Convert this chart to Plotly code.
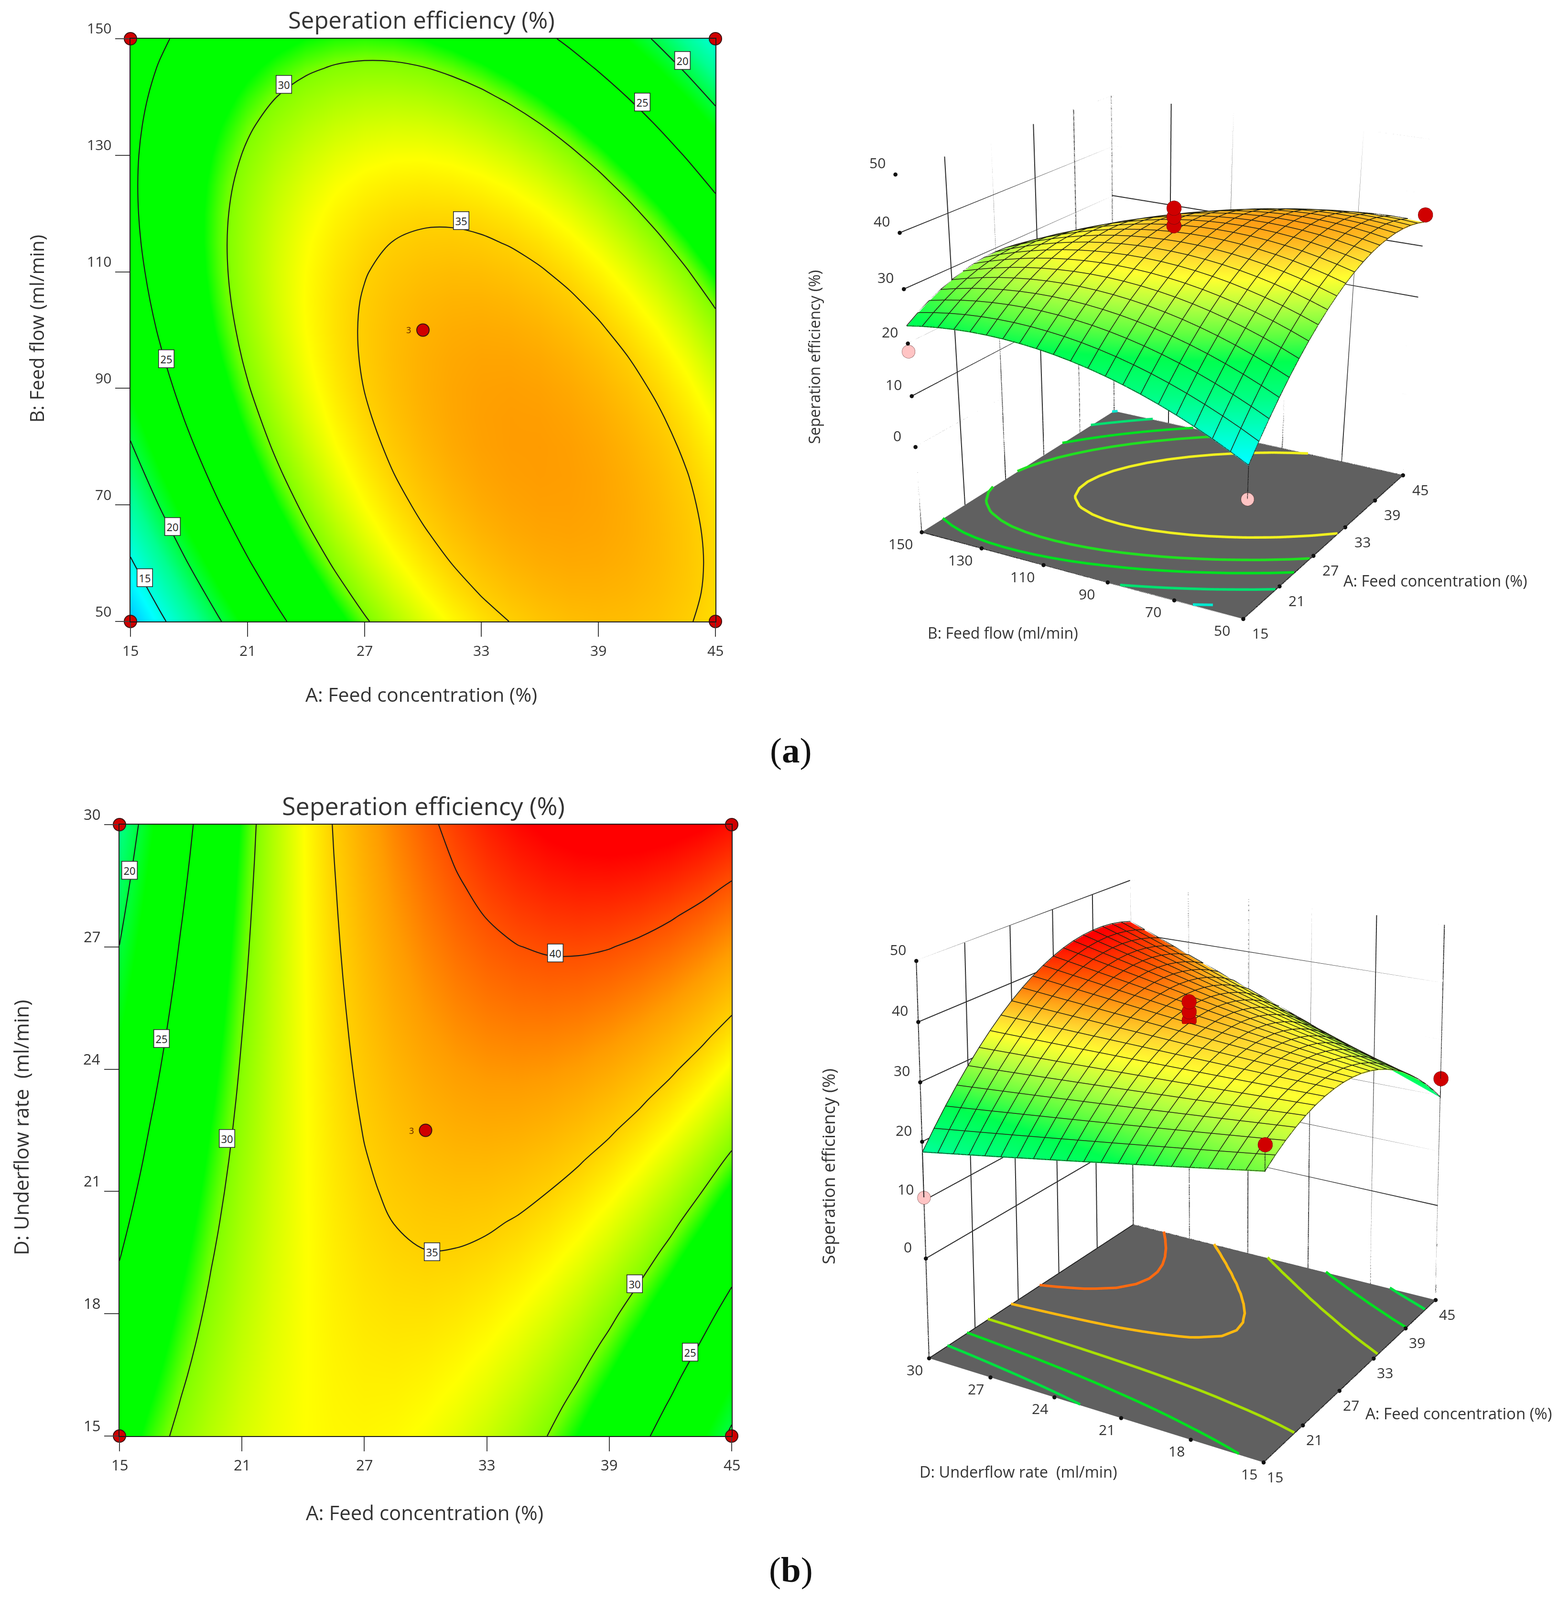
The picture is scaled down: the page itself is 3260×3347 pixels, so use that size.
import numpy as np
import plotly.graph_objects as go

W, H = 3260, 3347
PAGE_OFF = 8  # the browser's body margin
A_VALS = [15, 16.5, 18, 19.5, 21, 22.5, 24, 25.5, 27, 28.5, 30, 31.5, 33, 34.5, 36, 37.5, 39, 40.5, 42, 43.5, 45]
B_VALS = [50, 55, 60, 65, 70, 75, 80, 85, 90, 95, 100, 105, 110, 115, 120, 125, 130, 135, 140, 145, 150]
D_VALS = [15, 15.75, 16.5, 17.25, 18, 18.75, 19.5, 20.25, 21, 21.75, 22.5, 23.25, 24, 24.75, 25.5, 26.25, 27, 27.75,
          28.5, 29.25, 30]

EFF_A = [
 [11.45,14.40,17.16,19.73,22.11,24.30,26.31,28.12,29.75,31.18,32.43,33.49,34.36,35.04,35.53,35.83,35.95,35.87,35.61,35.15,34.51],
 [13.13,16.00,18.68,21.18,23.48,25.60,27.52,29.26,30.81,32.17,33.34,34.32,35.11,35.72,36.13,36.36,36.39,36.24,35.90,35.37,34.65],
 [14.69,17.48,20.09,22.51,24.74,26.78,28.63,30.29,31.76,33.04,34.13,35.03,35.75,36.28,36.62,36.77,36.73,36.50,36.08,35.47,34.68],
 [16.14,18.85,21.39,23.73,25.88,27.84,29.61,31.20,32.59,33.80,34.81,35.64,36.28,36.73,36.99,37.06,36.95,36.64,36.14,35.46,34.59],
 [17.47,20.11,22.57,24.83,26.90,28.78,30.48,31.99,33.31,34.44,35.38,36.13,36.69,37.06,37.25,37.24,37.05,36.66,36.09,35.33,34.38],
 [18.69,21.25,23.63,25.82,27.81,29.62,31.24,32.67,33.91,34.96,35.83,36.50,36.99,37.28,37.39,37.31,37.04,36.57,35.93,35.09,34.06],
 [19.80,22.28,24.58,26.69,28.61,30.34,31.88,33.23,34.40,35.37,36.16,36.76,37.17,37.39,37.42,37.26,36.91,36.37,35.65,34.73,33.63],
 [20.79,23.19,25.42,27.45,29.29,30.94,32.41,33.68,34.77,35.67,36.38,36.90,37.23,37.38,37.33,37.09,36.67,36.05,35.25,34.26,33.08],
 [21.66,23.99,26.14,28.09,29.86,31.43,32.82,34.02,35.03,35.85,36.49,36.93,37.18,37.25,37.13,36.81,36.31,35.62,34.74,33.67,32.41],
 [22.42,24.67,26.74,28.62,30.31,31.80,33.12,34.24,35.17,35.92,36.48,36.84,37.02,37.01,36.81,36.41,35.84,35.07,34.11,32.97,31.63],
 [23.06,25.24,27.23,29.03,30.64,32.06,33.30,34.34,35.20,35.87,36.35,36.64,36.74,36.65,36.37,35.90,35.25,34.40,33.37,32.15,30.74],
 [23.59,25.69,27.60,29.33,30.86,32.21,33.37,34.33,35.12,35.71,36.11,36.32,36.35,36.18,35.82,35.28,34.55,33.62,32.52,31.22,29.73],
 [24.00,26.02,27.86,29.51,30.97,32.24,33.32,34.21,34.92,35.43,35.75,35.89,35.84,35.59,35.16,34.54,33.73,32.73,31.55,30.17,28.61],
 [24.30,26.25,28.01,29.58,30.96,32.15,33.16,33.97,34.60,35.04,35.28,35.34,35.21,34.89,34.38,33.69,32.80,31.72,30.46,29.01,27.37],
 [24.48,26.36,28.04,29.53,30.84,31.95,32.88,33.62,34.17,34.53,34.70,34.68,34.47,34.08,33.49,32.72,31.75,30.60,29.26,27.73,26.01],
 [24.55,26.35,27.95,29.37,30.60,31.64,32.49,33.15,33.62,33.90,34.00,33.90,33.62,33.15,32.48,31.63,30.59,29.36,27.95,26.34,24.54],
 [24.51,26.22,27.75,29.09,30.24,31.21,31.98,32.56,32.96,33.16,33.18,33.01,32.65,32.10,31.36,30.43,29.32,28.01,26.51,24.83,22.96],
 [24.34,25.99,27.44,28.70,29.78,30.66,31.36,31.86,32.18,32.31,32.25,32.00,31.56,30.94,30.12,29.12,27.92,26.54,24.97,23.21,21.26],
 [24.07,25.63,27.01,28.19,29.19,30.00,30.62,31.05,31.29,31.34,31.21,30.88,30.37,29.66,28.77,27.69,26.42,24.96,23.31,21.47,19.44],
 [23.68,25.16,26.46,27.57,28.49,29.22,29.77,30.12,30.28,30.26,30.05,29.64,29.05,28.27,27.30,26.14,24.79,23.26,21.53,19.62,17.51],
 [23.17,24.58,25.80,26.83,27.68,28.33,28.80,29.07,29.16,29.06,28.77,28.29,27.62,26.76,25.72,24.48,23.06,21.44,19.64,17.65,15.47],
]
EFF_B = [
 [27.87,29.24,30.43,31.42,32.23,32.85,33.28,33.52,33.58,33.45,33.13,32.62,31.93,31.04,29.97,28.71,27.26,25.62,23.80,21.79,19.59],
 [27.37,28.81,30.08,31.16,32.05,32.75,33.26,33.58,33.72,33.67,33.43,33.00,32.39,31.58,30.59,29.41,28.04,26.49,24.75,22.82,20.70],
 [26.86,28.39,29.74,30.90,31.87,32.65,33.24,33.64,33.86,33.89,33.73,33.38,32.85,32.13,31.22,30.12,28.83,27.36,25.70,23.85,21.81],
 [26.36,27.97,29.40,30.64,31.69,32.55,33.22,33.70,34.00,34.11,34.04,33.77,33.32,32.68,31.85,30.83,29.62,28.23,26.65,24.88,22.92],
 [25.86,27.55,29.06,30.38,31.51,32.45,33.21,33.77,34.15,34.34,34.35,34.16,33.79,33.23,32.48,31.54,30.41,29.10,27.60,25.91,24.03],
 [25.36,27.13,28.72,30.12,31.33,32.35,33.19,33.84,34.30,34.57,34.66,34.55,34.26,33.78,33.11,32.25,31.20,29.97,28.55,26.94,25.14],
 [24.87,26.72,28.39,29.87,31.16,32.26,33.18,33.91,34.45,34.80,34.97,34.94,34.73,34.33,33.74,32.96,32.00,30.85,29.51,27.98,26.26],
 [24.38,26.31,28.06,29.62,31.00,32.17,33.17,33.98,34.60,35.03,35.28,35.33,35.20,34.88,34.37,33.68,32.80,31.72,30.46,29.01,27.38],
 [23.89,25.90,27.73,29.37,30.83,32.09,33.17,34.06,34.76,35.27,35.59,35.73,35.68,35.44,35.01,34.40,33.60,32.60,31.42,30.05,28.50],
 [23.40,25.49,27.40,29.12,30.66,32.00,33.16,34.13,34.91,35.50,35.91,36.13,36.16,36.00,35.65,35.12,34.40,33.48,32.38,31.09,29.62],
 [22.91,25.09,27.08,28.88,30.49,31.92,33.16,34.21,35.07,35.74,36.23,36.53,36.64,36.56,36.29,35.84,35.20,34.37,33.35,32.14,30.75],
 [22.42,24.68,26.75,28.63,30.33,31.84,33.16,34.29,35.23,35.98,36.55,36.93,37.12,37.12,36.93,36.56,36.00,35.25,34.31,33.19,31.88],
 [21.94,24.28,26.43,28.39,30.17,31.76,33.16,34.37,35.39,36.22,36.87,37.33,37.60,37.68,37.58,37.29,36.81,36.14,35.28,34.24,33.01],
 [21.46,23.88,26.11,28.15,30.01,31.68,33.16,34.45,35.55,36.47,37.20,37.74,38.09,38.25,38.23,38.02,37.62,37.03,36.25,35.29,34.14],
 [20.98,23.48,25.80,27.92,29.86,31.60,33.16,34.53,35.72,36.72,37.53,38.15,38.58,38.82,38.88,38.75,38.43,37.92,37.23,36.34,35.27],
 [20.50,23.08,25.48,27.68,29.70,31.53,33.17,34.62,35.89,36.97,37.86,38.56,39.07,39.39,39.53,39.48,39.24,38.81,38.20,37.39,36.40],
 [20.03,22.69,25.17,27.45,29.55,31.46,33.18,34.71,36.06,37.22,38.19,38.97,39.56,39.96,40.18,40.21,40.06,39.71,39.18,38.45,37.54],
 [19.56,22.30,24.85,27.22,29.40,31.39,33.19,34.80,36.23,37.47,38.52,39.38,40.05,40.54,40.84,40.95,40.87,40.60,40.15,39.51,38.68],
 [19.09,21.91,24.54,26.99,29.25,31.32,33.20,34.89,36.40,37.72,38.85,39.79,40.55,41.12,41.50,41.69,41.69,41.50,41.13,40.57,39.82],
 [18.62,21.52,24.23,26.76,29.10,31.25,33.21,34.99,36.58,37.98,39.19,40.21,41.05,41.70,42.16,42.43,42.51,42.40,42.11,41.63,40.96],
 [18.15,21.13,23.93,26.54,28.96,31.19,33.23,35.09,36.76,38.24,39.53,40.63,41.55,42.28,42.82,43.17,43.33,43.31,43.10,42.70,42.11],
]

A_TICKS = [15, 21, 27, 33, 39, 45]
B_TICKS = [50, 70, 90, 110, 130, 150]
D_TICKS = [15, 18, 21, 24, 27, 30]
Z_TICKS = [0, 10, 20, 30, 40, 50]
Z_FLOOR = -17.5

LEVELS_A = [15, 20, 25, 30, 35]
LEVELS_B = [20, 25, 30, 35, 40]
# levels of the lines printed on the floor of the 3-D boxes
FLOOR_LEVELS_A = [16, 21, 25.7, 29.0, 33.5]
FLOOR_COLORS_A = ['#00e8d0', '#00e070', '#00e020', '#20e020', '#f0f020']
FLOOR_LEVELS_B = [22.7, 27.2, 31.5, 35.6, 39.6]
FLOOR_COLORS_B = ['#00e040', '#00e020', '#a8e000', '#ffb810', '#ff6a10']

LABELS_A = [(30, 22.87, 142.2), (35, 31.97, 118.8), (25, 41.24, 139.1), (20, 43.3, 146.3),
            (25, 16.83, 95.1), (20, 17.16, 66.3), (15, 15.73, 57.5)]
LABELS_B = [(20, 15.48, 28.88), (25, 17.06, 24.75), (30, 20.28, 22.3), (40, 36.35, 26.85),
            (35, 30.32, 19.52), (30, 40.24, 18.74), (25, 42.97, 17.06)]

# design points above (red) and below (pink) the fitted surface
PTS_A_RED = ([30, 30, 30, 45], [100, 100, 100, 50], [40.8, 39.2, 37.6, 36.0])
PTS_A_PINK = ([15, 15, 45], [150, 50, 150], [18.5, 5.4, 14.0])
PTS_B_RED = ([30, 30, 30, 45, 15], [22.5, 22.5, 22.5, 15, 15], [40.0, 38.3, 36.8, 23.0, 32.0])
PTS_B_PINK = ([15, 45], [30, 30], [10.5, 38.0])

TITLE = 'Seperation efficiency (%)'
XLAB = 'A: Feed concentration (%)'
YLAB_A = 'B: Feed flow (ml/min)'
YLAB_B = 'D: Underflow rate  (ml/min)'

FONT = 'Open Sans'
INK = '#333333'
CMIN, CMAX = 10, 44
COLORS = [(10, '#0040ff'), (11.5, '#00c0ff'), (14, '#00ffff'), (18, '#00ff90'), (21.5, '#00ff00'),
          (28.8, '#00ff00'), (30, '#80ff00'), (33.3, '#ffff00'), (35, '#ffd000'), (37.4, '#ff9c00'),
          (40, '#ff5000'), (42.5, '#ff0000'), (44, '#ff0000')]
SURF_COLORS = [(10, '#00ffff'), (12, '#00ffff'), (15, '#00ffd0'), (20, '#00ff80'), (24, '#00ff50'), (27, '#60ff40'),
               (30, '#b0ff40'), (33, '#ffff30'), (35, '#ffd830'), (37, '#ffa818'), (40, '#ff5000'), (43, '#ff0000'),
               (44, '#ff0000')]
CSCALE = [[(v - CMIN) / (CMAX - CMIN), c] for v, c in COLORS]
SURF_SCALE = [[(v - CMIN) / (CMAX - CMIN), c] for v, c in SURF_COLORS]

# where the box corners sit on the page: (x side, y side, z side) -> pixels in the shrunk view
CORNERS_A = {(-1, 1, -1): (900, 520), (-1, -1, -1): (1218, 610), (1, -1, -1): (1382, 465), (1, 1, -1): (1090, 402),
             (-1, 1, 1): (882, 170), (1, 1, 1): (1090, 95), (1, -1, 1): (1397, 135)}
CORNERS_B = {(-1, 1, -1): (912, 1331), (-1, -1, -1): (1237, 1430), (1, -1, -1): (1405, 1275), (1, 1, -1): (1110, 1202),
             (-1, 1, 1): (897, 945), (1, 1, 1): (1107, 860), (1, -1, 1): (1420, 905)}
SCALE = W / 1527
DOMAIN_H = [0.5, 0.6, 0.7, 0.8, 0.9, 1.0]
DOMAIN_W = [0.5, 0.6, 0.75, 0.9, 1.0]


def fit_one(corners, elev, ratio, pp, focal):
    keys = np.array(list(corners.keys()), float)
    target = np.array(list(corners.values()), float) * SCALE
    az, e = np.arctan(ratio), np.radians(elev)
    f0 = np.array([np.cos(az) * np.cos(e), np.sin(az) * np.cos(e), -np.sin(e)])
    r0 = np.array([f0[1], -f0[0], 0.0]) / np.hypot(f0[0], f0[1])
    u0 = np.cross(r0, f0)
    R0 = np.stack([r0, u0, f0])

    def rot(w):
        th = np.linalg.norm(w)
        if th < 1e-12:
            return np.eye(3)
        k = w / th
        K = np.array([[0, -k[2], k[1]], [k[2], 0, -k[0]], [-k[1], k[0], 0]])
        return np.eye(3) + np.sin(th) * K + (1 - np.cos(th)) * K @ K

    def residual(p):
        R = R0 @ rot(p[3:6])
        pts = keys * np.array([0.5, 0.5 * p[6], 0.5 * p[7]]) - p[:3]
        cam = pts @ R.T
        x = pp[0] + cam[:, 0] * focal / cam[:, 2]
        y = pp[1] - cam[:, 1] * focal / cam[:, 2]
        return np.concatenate([x - target[:, 0], y - target[:, 1]])

    p = np.concatenate([-f0 * focal / 762.0, np.zeros(3), [1.0, 1.05]])
    lam = 1e-3
    cost = (residual(p) ** 2).sum()
    for _ in range(120):
        r = residual(p)
        J = np.zeros((len(r), len(p)))
        for i in range(len(p)):
            dp = np.zeros(len(p))
            dp[i] = 1e-5
            J[:, i] = (residual(p + dp) - r) / 1e-5
        step = np.linalg.solve(J.T @ J + lam * np.eye(len(p)), -J.T @ r)
        new_cost = (residual(p + step) ** 2).sum()
        if new_cost < cost:
            p, cost, lam = p + step, new_cost, max(lam * 0.5, 1e-9)
        else:
            lam *= 4
    R = R0 @ rot(p[3:6])
    eye, up, fwd = p[:3], R[1], R[2]
    return cost, eye, eye + fwd * np.linalg.norm(eye), up, p[6], p[7]


def fit_camera(corners, elev, ratio, anchor_top):
    """Choose the scene's viewport and camera that put the box corners on their page positions."""
    best = None
    for fh in DOMAIN_H:
        for fw in DOMAIN_W:
            h, w = fh * H, fw * W
            focal = (h / 2) / np.tan(np.pi / 8)
            ppx = PAGE_OFF + W - w / 2
            ppy = PAGE_OFF + (h / 2 if anchor_top else H - h / 2)
            res = fit_one(corners, elev, ratio, (ppx, ppy), focal)
            if best is None or res[0] < best[0][0]:
                best = (res, fh, fw)
    return best


def level_lines(xs, ys, grid, level):
    """Marching squares over the read grid, chained into polylines."""
    segs = []
    for j in range(len(ys) - 1):
        for i in range(len(xs) - 1):
            c = [(xs[i], ys[j], grid[j][i]), (xs[i + 1], ys[j], grid[j][i + 1]),
                 (xs[i + 1], ys[j + 1], grid[j + 1][i + 1]), (xs[i], ys[j + 1], grid[j + 1][i])]
            pts = []
            for k in range(4):
                p, q = c[k], c[(k + 1) % 4]
                if (p[2] - level) * (q[2] - level) < 0:
                    t = (level - p[2]) / (q[2] - p[2])
                    pts.append((round(p[0] + t * (q[0] - p[0]), 6), round(p[1] + t * (q[1] - p[1]), 6)))
            if len(pts) == 2:
                segs.append(pts)
            elif len(pts) == 4:
                segs += [pts[:2], pts[2:]]
    ends = {}
    for n, s in enumerate(segs):
        for e in s:
            ends.setdefault(e, []).append(n)
    used = set()
    X, Y = [], []
    order = sorted(range(len(segs)), key=lambda n: min(len(ends[segs[n][0]]), len(ends[segs[n][1]])))
    for n in order:
        if n in used:
            continue
        used.add(n)
        s = segs[n]
        start, cur = (s[0], s[1]) if len(ends[s[0]]) == 1 else (s[1], s[0])
        X += [start[0], cur[0]]
        Y += [start[1], cur[1]]
        while True:
            nxt = [m for m in ends[cur] if m not in used]
            if not nxt:
                break
            used.add(nxt[0])
            a, b = segs[nxt[0]]
            cur = b if a == cur else a
            X.append(cur[0])
            Y.append(cur[1])
        X.append(None)
        Y.append(None)
    return X, Y


def px_x(p):
    return (p * SCALE - PAGE_OFF) / W


def px_y(p):
    return 1 - (p * SCALE - PAGE_OFF) / H


fig = go.Figure()
annots = []


def text(t, x, y, size, angle=0, color=INK, family=FONT):
    annots.append(dict(text=t, x=px_x(x), y=px_y(y), xref='paper', yref='paper', showarrow=False,
                       xanchor='center', yanchor='middle', textangle=angle,
                       font=dict(size=size, family=family, color=color)))


def panel2d(n, xs, ys, grid, xdom, ydom, xticks, yticks, labels, yrange, levels, tick_size):
    xa, ya = ('x', 'y') if n == 1 else ('x2', 'y2')
    fig.add_trace(go.Heatmap(x=xs, y=ys, z=grid, colorscale=CSCALE, zmin=CMIN, zmax=CMAX, zsmooth='best',
                             showscale=False, hoverinfo='skip', xaxis=xa, yaxis=ya))
    fig.add_trace(go.Contour(x=xs, y=ys, z=grid, autocontour=False,
                             contours=dict(coloring='none', start=levels[0], end=levels[-1], size=5),
                             line=dict(color='#1a1a1a', width=2.2, smoothing=1.0),
                             showscale=False, hoverinfo='skip', xaxis=xa, yaxis=ya))
    xc, yc = 30, (yrange[0] + yrange[1]) / 2
    cx = [15, 15, 45, 45, xc]
    cy = [yrange[0], yrange[1], yrange[0], yrange[1], yc]
    fig.add_trace(go.Scatter(x=cx, y=cy, mode='markers', cliponaxis=False, hoverinfo='skip',
                             marker=dict(size=26, color='#d00000', line=dict(color='#401010', width=2)),
                             xaxis=xa, yaxis=ya))
    axis = dict(showgrid=False, zeroline=False, showline=True, mirror=True, linecolor='#1a1a1a', linewidth=2,
                ticks='outside', ticklen=30, tickcolor='#444444', tickwidth=2, showticklabels=False)
    key = '' if n == 1 else '2'
    fig.layout['xaxis' + key] = dict(axis, domain=xdom, range=[15, 45], tickvals=xticks, anchor='y' + key)
    fig.layout['yaxis' + key] = dict(axis, domain=ydom, range=yrange, tickvals=yticks, anchor='x' + key)
    for v in xticks:
        annots.append(dict(text=str(v), x=v, y=yrange[0], xref=xa, yref=ya, showarrow=False, yshift=-60,
                           font=dict(size=tick_size, family=FONT, color=INK)))
    for v in yticks:
        annots.append(dict(text=str(v), x=15, y=v, xref=xa, yref=ya, showarrow=False, xanchor='right',
                           xshift=-38, yshift=22, font=dict(size=tick_size, family=FONT, color=INK)))
    for lab, lx, ly in labels:
        annots.append(dict(text=str(lab), x=lx, y=ly, xref=xa, yref=ya, showarrow=False, bgcolor='white',
                           bordercolor='#222222', borderwidth=1.5, borderpad=3,
                           font=dict(size=22, family=FONT, color='#222222')))
    annots.append(dict(text='3', x=xc, y=yc, xref=xa, yref=ya, showarrow=False, xshift=-30,
                       font=dict(size=18, family=FONT, color='#5a1a00')))


panel2d(1, A_VALS, B_VALS, EFF_A, [(273 - PAGE_OFF) / W, (1497 - PAGE_OFF) / W],
        [1 - (1300 - PAGE_OFF) / H, 1 - (81 - PAGE_OFF) / H], A_TICKS, B_TICKS, LABELS_A, [50, 150], LEVELS_A, 30)
panel2d(2, A_VALS, D_VALS, EFF_B, [(250 - PAGE_OFF) / W, (1531 - PAGE_OFF) / W],
        [1 - (3004 - PAGE_OFF) / H, 1 - (1725 - PAGE_OFF) / H], A_TICKS, D_TICKS, LABELS_B, [15, 30], LEVELS_B, 31)

text(TITLE, 413, 19, 49)
text(XLAB, 413, 680, 41)
text(YLAB_A, 36, 322, 40, -90)
text(TITLE, 415, 789, 52)
text(XLAB, 416, 1482, 42)
text(YLAB_B, 20, 1105, 42, -90)
text('(<b>a</b>)', 775, 735, 75, family='Liberation Serif', color='#111111')
text('(<b>b</b>)', 775, 1538, 75, family='Liberation Serif', color='#111111')
text(YLAB_A, 983, 620, 32)
text(XLAB, 1407, 569, 32.5)
text(TITLE, 798, 350, 32, -90)
text(YLAB_B, 998, 1442, 32.5)
text(XLAB, 1430, 1385, 33)
text(TITLE, 812, 1143, 36, -90)


def line3d(xs, ys, zs, scene, color='#3a3a3a', width=2):
    fig.add_trace(go.Scatter3d(x=xs, y=ys, z=zs, mode='lines', line=dict(color=color, width=width),
                               hoverinfo='skip', showlegend=False, scene=scene))


def panel3d(scene, ys_vals, grid, yticks, levels, level_colors, red, pink, yrange, corners, elev, ratio,
            droplines, anchor_top, a_shift, y_shift):
    amin, amax = 15, 45
    ymin, ymax = yrange
    z0, z1 = Z_FLOOR, Z_TICKS[-1]
    X, Y, Z = [], [], []
    for a in A_TICKS:
        X += [a, a, None]; Y += [ymax, ymax, None]; Z += [z0, z1, None]
    for b in yticks:
        X += [amax, amax, None]; Y += [b, b, None]; Z += [z0, z1, None]
    for z in Z_TICKS:
        X += [amin, amax, amax, None]; Y += [ymax, ymax, ymin, None]; Z += [z, z, z, None]
    line3d(X, Y, Z, scene, '#2a2a2a', 4)
    line3d([amin, amin, amax, amax, amin, None, amin, amin, None, amax, amax],
           [ymax, ymin, ymin, ymax, ymax, None, ymax, ymax, None, ymin, ymin],
           [z0, z0, z0, z0, z0, None, z0, z1, None, z0, z1], scene, '#1a1a1a', 4)
    for lev, col in zip(levels, level_colors):
        lx, ly = level_lines(A_VALS, ys_vals, grid, lev)
        line3d(lx, ly, [None if v is None else z0 + 0.15 for v in lx], scene, col, 11)
    fig.add_trace(go.Surface(x=A_VALS, y=ys_vals, z=grid, colorscale=SURF_SCALE, cmin=CMIN, cmax=CMAX, showscale=False,
                             hoverinfo='skip', scene=scene,
                             lighting=dict(ambient=1, diffuse=0, specular=0, roughness=1, fresnel=0),
                             contours=dict(x=dict(highlight=False), y=dict(highlight=False), z=dict(highlight=False))))
    # mesh drawn along the rows and columns of the grid, just above the surface
    mx, my, mz = [], [], []
    lift = 0.12
    for j, yv in enumerate(ys_vals):
        mx += list(A_VALS) + [None]
        my += [yv] * len(A_VALS) + [None]
        mz += [v + lift for v in grid[j]] + [None]
    for i, xv in enumerate(A_VALS):
        mx += [xv] * len(ys_vals) + [None]
        my += list(ys_vals) + [None]
        mz += [row[i] + lift for row in grid] + [None]
    line3d(mx, my, mz, scene, '#202010', 3)
    tx = list(A_TICKS) + [amin for _ in yticks] + [amin for _ in Z_TICKS]
    ty = [ymin for _ in A_TICKS] + list(yticks) + [ymax for _ in Z_TICKS]
    tz = [z0 for _ in A_TICKS] + [z0 for _ in yticks] + list(Z_TICKS)
    fig.add_trace(go.Scatter3d(x=tx, y=ty, z=tz, mode='markers', marker=dict(size=5, color='#111111'),
                               hoverinfo='skip', showlegend=False, scene=scene))
    for (dx, dy, dz_lo, dz_hi) in droplines:
        line3d([dx, dx], [dy, dy], [dz_lo, dz_hi], scene, '#111111', 3)
    fig.add_trace(go.Scatter3d(x=pink[0], y=pink[1], z=pink[2], mode='markers', hoverinfo='skip', showlegend=False,
                               marker=dict(size=16, color='#ffc4c4', line=dict(color='#502020', width=2)), scene=scene))
    fig.add_trace(go.Scatter3d(x=red[0], y=red[1], z=red[2], mode='markers', hoverinfo='skip', showlegend=False,
                               marker=dict(size=18, color='#d00000', line=dict(color='#401010', width=2)), scene=scene))
    (cost, eye, center, up, ya, za), fh, fw = fit_camera(corners, elev, ratio, anchor_top)
    anns = []
    for v in A_TICKS:
        anns.append(dict(x=v, y=ymin, z=z0, text=str(v), showarrow=False, xshift=a_shift[0], yshift=a_shift[1],
                         font=dict(size=30, family=FONT, color=INK)))
    for v in yticks:
        anns.append(dict(x=amin, y=v, z=z0, text=str(v), showarrow=False, xshift=y_shift, yshift=-24,
                         font=dict(size=30, family=FONT, color=INK)))
    for v in Z_TICKS:
        anns.append(dict(x=amin, y=ymax, z=v, text=str(v), showarrow=False, xshift=-38, yshift=24,
                         font=dict(size=30, family=FONT, color=INK)))
    ax = dict(showticklabels=False, ticks='', showgrid=False, zeroline=False, showline=False, title='',
              showspikes=False, showbackground=False)
    ydom = [1 - fh, 1] if anchor_top else [0, fh]
    fig.layout[scene] = dict(
        domain=dict(x=[1 - fw, 1], y=ydom), bgcolor='rgba(0,0,0,0)',
        xaxis=dict(ax, range=[amin, amax]), yaxis=dict(ax, range=[ymin, ymax]),
        zaxis=dict(ax, range=[z0, z1], showbackground=True, backgroundcolor='#606060'),
        aspectmode='manual', aspectratio=dict(x=1, y=float(ya), z=float(za)),
        camera=dict(eye=dict(x=float(eye[0]), y=float(eye[1]), z=float(eye[2])),
                    center=dict(x=float(center[0]), y=float(center[1]), z=float(center[2])),
                    up=dict(x=float(up[0]), y=float(up[1]), z=float(up[2])),
                    projection=dict(type='perspective')),
        annotations=anns)


panel3d('scene', B_VALS, EFF_A, B_TICKS, FLOOR_LEVELS_A, FLOOR_COLORS_A, PTS_A_RED, PTS_A_PINK, [50, 150],
        CORNERS_A, 25.6, 0.516, [(15, 50, 5.4, 11.45)], True, (36, -30), -44)
panel3d('scene2', D_VALS, EFF_B, D_TICKS, FLOOR_LEVELS_B, FLOOR_COLORS_B, PTS_B_RED, PTS_B_PINK, [15, 30],
        CORNERS_B, 27.5, 0.517, [(15, 30, 10.5, 18.15), (15, 15, 27.87, 32.0), (45, 15, 19.59, 23.0)], False,
        (24, -30), -30)

fig.update_layout(width=W, height=H, margin=dict(l=0, r=0, t=0, b=0), paper_bgcolor='white', plot_bgcolor='white',
                  showlegend=False, annotations=annots)
fig.write_html('out.html')
